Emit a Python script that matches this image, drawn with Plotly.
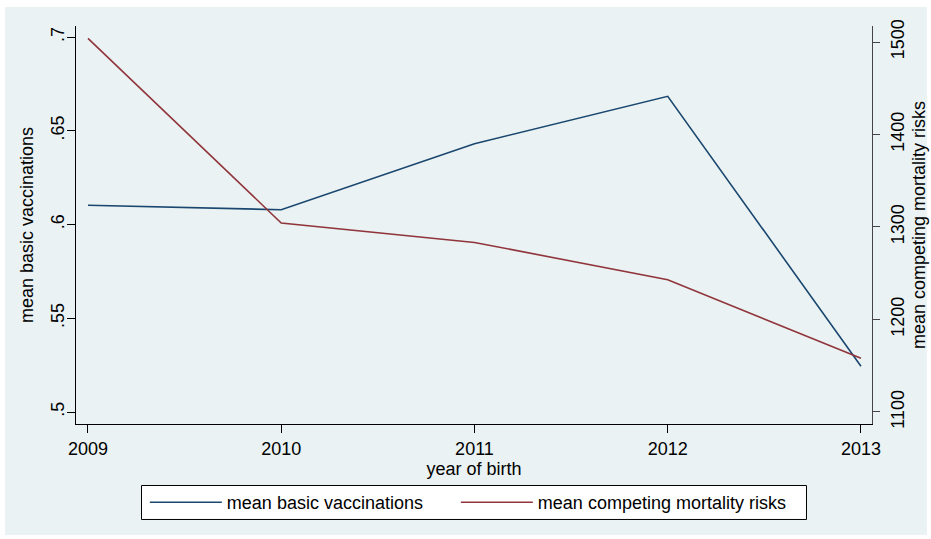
import plotly.graph_objects as go

years = [2009, 2010, 2011, 2012, 2013]
basic_vacc = [0.6103, 0.6079, 0.6431, 0.6684, 0.5244]
mortality = [1504.0, 1304.3, 1283.3, 1243.0, 1158.0]

left_ticks = [0.5, 0.55, 0.6, 0.65, 0.7]
left_labels = [".5", ".55", ".6", ".65", ".7"]
right_ticks = [1100, 1200, 1300, 1400, 1500]
grid_ticks = [0.5, 0.55, 0.6, 0.65]

BLUE = "#1a476f"
RED = "#90353b"
PANEL = "#eaf2f3"
FONT = "Liberation Sans, Arial, Helvetica, sans-serif"

fig = go.Figure()
fig.add_trace(go.Scatter(x=years, y=basic_vacc, mode="lines", name="mean basic vaccinations",
                         line=dict(color=BLUE, width=1.6), yaxis="y", legend="legend"))
fig.add_trace(go.Scatter(x=years, y=mortality, mode="lines", name="mean competing mortality risks",
                         line=dict(color=RED, width=1.6), yaxis="y2", legend="legend2"))

yr = [0.4936, 0.7059]
leg_common = dict(orientation="h", yanchor="top", xanchor="left", y=-0.1508,
                  bgcolor="rgba(0,0,0,0)", borderwidth=0, font=dict(size=18), itemwidth=72)
fig.update_layout(
    width=931, height=539,
    margin=dict(l=76, r=59, t=26, b=115, autoexpand=False),
    paper_bgcolor="white", plot_bgcolor="white",
    font=dict(family=FONT, size=18, color="black"),
    showlegend=True,
    legend=dict(x=0.0865, **leg_common),
    legend2=dict(x=0.4772, **leg_common),
    xaxis=dict(range=[2008.938, 2013.057], tickvals=years, ticks="outside", ticklen=8,
               tickcolor="black", showline=True, linecolor="black", linewidth=1,
               showgrid=False, zeroline=False, automargin=False,
               title=dict(text="year of birth", standoff=1, font=dict(size=18)),
               tickfont=dict(size=18)),
    yaxis=dict(range=yr, tickvals=left_ticks, ticktext=left_labels, tickangle=-90,
               ticks="outside", ticklen=8, tickcolor="black", showline=True,
               linecolor="black", linewidth=1, showgrid=False, zeroline=False, automargin=False,
               ticklabelstandoff=-4,
               title=dict(text="mean basic vaccinations", standoff=9, font=dict(size=18)),
               tickfont=dict(size=18)),
    yaxis2=dict(range=[1087.0, 1517.3], tickvals=right_ticks, tickangle=-90, side="right",
                overlaying="y", ticks="outside", ticklen=7, tickcolor="#444", automargin=False,
                showline=True, linecolor="#444", linewidth=1, showgrid=False, zeroline=False,
                ticklabelstandoff=2,
                title=dict(text="mean competing mortality risks", standoff=5, font=dict(size=18)),
                tickfont=dict(size=18)),
    yaxis3=dict(range=yr, tickvals=grid_ticks, overlaying="y", showticklabels=False,
                showgrid=True, gridcolor=PANEL, gridwidth=1.2, showline=False,
                zeroline=False, ticks="", automargin=False),
    shapes=[
        dict(type="rect", xref="paper", yref="paper", x0=-0.0892, x1=1.069,
             y0=-0.279, y1=1.048, fillcolor=PANEL, line=dict(width=0), layer="below"),
        dict(type="rect", xref="paper", yref="paper", x0=0.0823, x1=0.9177,
             y0=-0.2399, y1=-0.1545, fillcolor="white", line=dict(color="black", width=1),
             layer="above"),
    ],
)
fig.write_html("out.html")
